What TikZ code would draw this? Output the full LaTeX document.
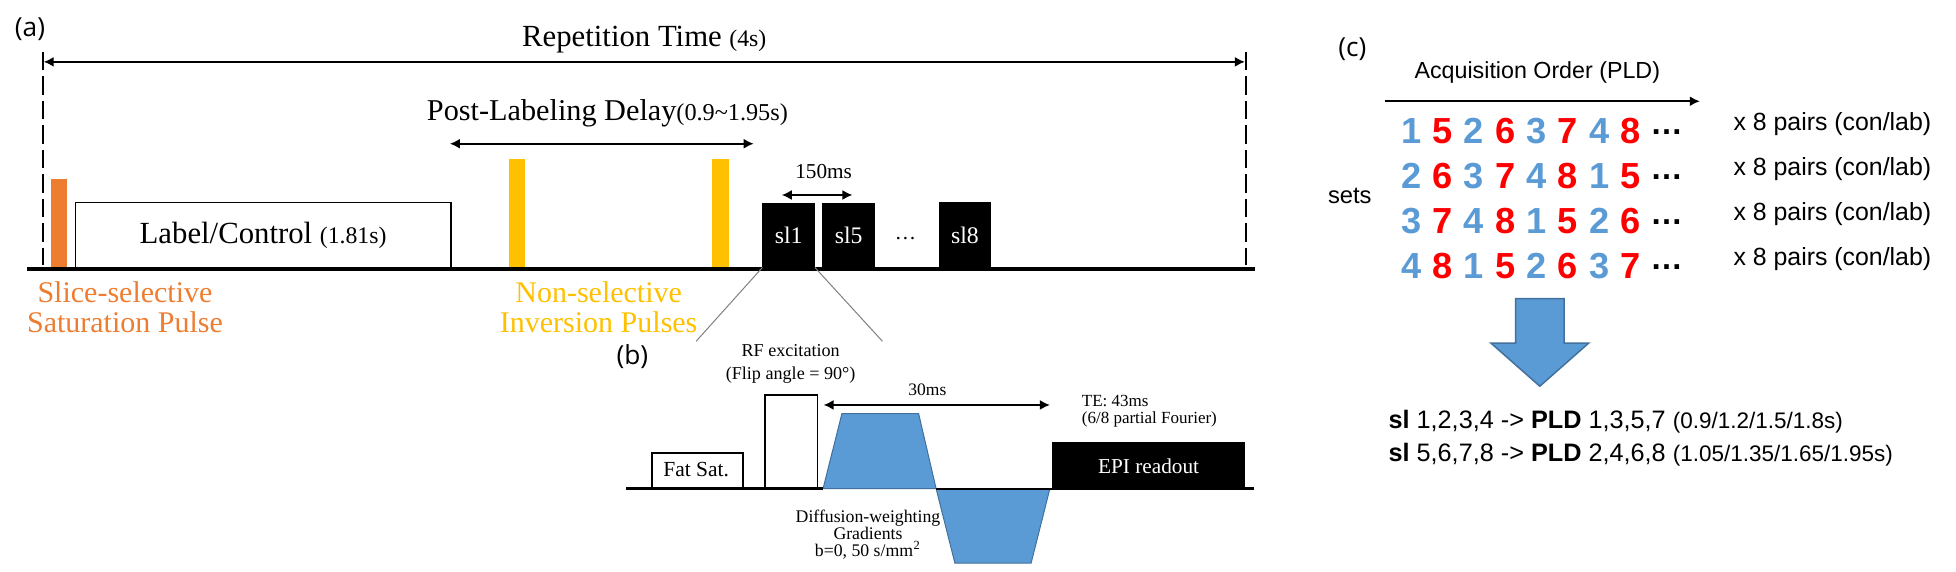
\documentclass[tikz,border=0pt]{standalone}
\usepackage{fontspec}
\setmainfont{Liberation Serif}
\newfontfamily\arialf{Liberation Sans}
\newfontfamily\labelf{Open Sans}
\usetikzlibrary{arrows.meta}
\definecolor{cblue}{HTML}{5B9BD5}
\definecolor{cblueedge}{HTML}{41719C}
\definecolor{cred}{HTML}{FF0000}
\definecolor{corange}{HTML}{ED7D31}
\definecolor{cyellow}{HTML}{FFC000}
\newcommand\sz[1]{\fontsize{#1}{#1}\selectfont}
\newcommand\boxn[6]{\node[#6,anchor=north west,minimum width={(#4-#2)*0.5pt},minimum height={(#5-#3)*0.5pt}] (#1) at (#2,#3) {};}
\tikzset{
  every node/.style={inner sep=0pt,outer sep=0pt},
  txt/.style={anchor=mid,text=black},
  multi/.style={align=center,anchor=center},
  panel/.style={anchor=mid,font=\labelf\sz{10.5}},
  dim/.style={line width=0.65pt,{Latex[length=4pt,width=4pt]}-{Latex[length=4pt,width=4pt]}},
  baseline line/.style={line width=1.7pt,black},
  dashline/.style={line width=1pt,dash pattern=on 7.3pt off 2.5pt},
  whitebox/.style={draw=black,line width=0.6pt,fill=white},
  blackbox/.style={fill=black,text=white},
  guide/.style={draw=gray,line width=0.4pt},
  digitn/.style={anchor=base,font=\arialf\bfseries\sz{14.5}},
  moredots/.style={anchor=base,font=\arialf\bfseries\sz{13},text=black},
  pairs/.style={anchor=west,font=\arialf\sz{9.95},text=black},
  grad/.style={fill=cblue,draw=cblueedge,line width=0.4pt},
}
\begin{document}
\begin{tikzpicture}[x=0.5pt,y=-0.5pt]
\useasboundingbox (0,0) rectangle (1565,457);
% (a)
\coordinate (bl0) at (22,215); \coordinate (bl1) at (1004,215);
\boxn{oran}{41}{143}{54}{214}{fill=corange}
\boxn{lab}{60.6}{162}{361}{214}{whitebox}
\boxn{y1}{407}{127}{420}{214}{fill=cyellow}
\boxn{y2}{570}{127}{583}{214}{fill=cyellow}
\boxn{sl1}{610}{162.5}{652}{214}{blackbox}
\boxn{sl5}{658}{162.5}{700}{214}{blackbox}
\boxn{sl8}{751}{162}{793}{214}{blackbox}
\draw[baseline line] (bl0) -- (bl1);
\coordinate (dl0) at (34.4,41.5); \coordinate (dl1) at (34.4,212);
\coordinate (dr0) at (997,41.5); \coordinate (dr1) at (997,212);
\draw[dashline] (dl0) -- (dl1);
\draw[dashline] (dr0) -- (dr1);
\coordinate (tr0) at (35,49.5); \coordinate (tr1) at (996,49.5);
\draw[dim] (tr0) -- (tr1);
\coordinate (pl0) at (360,115); \coordinate (pl1) at (603,115);
\draw[dim] (pl0) -- (pl1);
\coordinate (ms0) at (625.5,156); \coordinate (ms1) at (682,156);
\draw[dim] (ms0) -- (ms1);
\node[panel] (la) at (24,25) {(a)};
\node[txt] (tr) at (515.5,33) {\sz{12.3}Repetition Time \sz{9.5}(4s)};
\node[txt] (pld) at (486,92) {\sz{12.1}Post-Labeling Delay\sz{9.7}(0.9\textasciitilde 1.95s)};
\node[txt] (lct) at (210.5,190) {\sz{12.3}Label/Control \sz{9.5}(1.81s)};
\node[txt,text=white] (sl1t) at (631,190) {\sz{9.5}sl1};
\node[txt,text=white] (sl5t) at (679,190) {\sz{9.5}sl5};
\node[txt,text=white] (sl8t) at (772,190) {\sz{9.5}sl8};
\node[anchor=base,text=black] (dots) at (724.5,192) {\sz{8.5}…};
\node[txt] (ms) at (659,138) {\sz{8.5}150ms};
\node[multi,text=corange,font=\sz{12}] (sss) at (100,246) {Slice-selective\\Saturation Pulse};
\node[multi,text=cyellow,font=\sz{12}] (nsi) at (479,246) {Non-selective\\Inversion Pulses};
% zoom lines
\coordinate (z0) at (557,273); \coordinate (z1) at (706,273);
\draw[guide] (sl1.south west) -- (z0);
\draw[guide] (sl1.south east) -- (z1);
% (b)
\node[panel] (lb) at (506,287) {(b)};
\coordinate (bb0) at (501,391); \coordinate (bb1) at (1003,391);
\boxn{fat}{521.6}{362.6}{594.6}{390}{whitebox}
\boxn{rf}{612}{316}{654}{390}{whitebox}
\boxn{epi}{841.6}{354}{996.5}{391}{blackbox}
\draw[grad] (658.5,391) -- (673.6,331) -- (735,331) -- (749,391) -- cycle;
\draw[grad] (749,391) -- (764,450.5) -- (825,450.5) -- (840,391) -- cycle;
\draw[black,line width=1.4pt] (bb0) -- (658.5,391);
\draw[black,line width=0.8pt] (749,391) -- (841.6,391);
\draw[black,line width=1.4pt] (841.6,391) -- (bb1);
\coordinate (t0) at (659,324); \coordinate (t1) at (840,324);
\draw[dim] (t0) -- (t1);
\node[txt] (ft) at (557,377) {\sz{8.6}Fat Sat.};
\node[multi,text=black,font=\fontsize{7.25}{9}\selectfont] (rft) at (632.6,291) {RF excitation\\(Flip angle = 90°)};
\node[txt] (t30) at (742,312) {\sz{7}30ms};
\node[anchor=north west,align=left,font=\sz{6.8}] (te) at (865.6,316) {TE: 43ms\\(6/8 partial Fourier)};
\node[txt,text=white] (epit) at (919,374) {\sz{8.5}EPI readout};
\node[multi,font=\fontsize{7.1}{6.75}\selectfont] (dw) at (694.5,428) {Diffusion-weighting\\Gradients\\b=0, 50 s/mm\kern0.2pt\textsuperscript{2}};
% (c)
\node[panel] (lc) at (1082,41) {(c)};
\node[txt,font=\arialf] (aq) at (1230,58) {\sz{9.3}Acquisition Order (PLD)};
\coordinate (ar0) at (1108,81); \coordinate (ar1) at (1360,81);
\draw[line width=0.65pt,-{Latex[length=4pt,width=4pt]}] (ar0) -- (ar1);
\node[txt,font=\arialf] (sets) at (1080,158) {\sz{9.5}sets};
\foreach \row/\yy/\seq in {a/115/{1,5,2,6,3,7,4,8},b/151/{2,6,3,7,4,8,1,5},c/187/{3,7,4,8,1,5,2,6},d/223/{4,8,1,5,2,6,3,7}}{
  \foreach \d [count=\i] in \seq {
    \pgfmathsetmacro\xx{1129+25.1*(\i-1)}
    \pgfmathparse{isodd(\i)?1:0}
    \ifnum\pgfmathresult=1 \def\cc{cblue}\else\def\cc{cred}\fi
    \node[digitn,text=\cc] (d\row\i) at (\xx,\yy) {\d};
  }
  \pgfmathsetmacro\yd{\yy-7}
  \node[moredots] (e\row) at (1333.5,\yd) {…};
  \pgfmathsetmacro\yp{\yy-15.5}
  \node[pairs] (p\row) at (1387,\yp) {x 8 pairs (con/lab)};
}
\draw[draw=cblueedge,fill=cblue,line width=0.6pt] (1212.6,239) -- (1251.4,239) -- (1251.4,274.6) -- (1271,274.6) -- (1232,309) -- (1193,274.6) -- (1212.6,274.6) -- cycle;
\node[anchor=west,font=\arialf] (s1) at (1111,337) {\sz{10.1}\textbf{sl} 1,2,3,4 -> \textbf{PLD} 1,3,5,7 \sz{9}(0.9/1.2/1.5/1.8s)};
\node[anchor=west,font=\arialf] (s2) at (1111,364) {\sz{10.1}\textbf{sl} 5,6,7,8 -> \textbf{PLD} 2,4,6,8 \sz{9}(1.05/1.35/1.65/1.95s)};
\end{tikzpicture}
\end{document}
